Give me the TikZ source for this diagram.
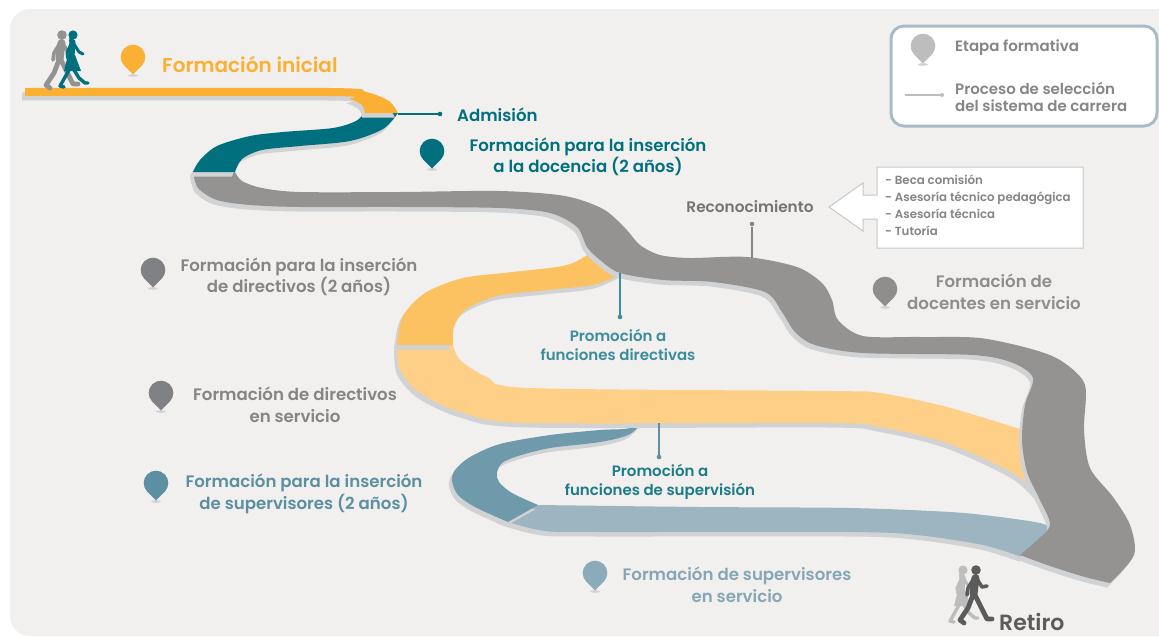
\documentclass[tikz,border=0pt]{standalone}
\usepackage{fontspec}
\setmainfont{Poppins}[UprightFont={* SemiBold}]
\definecolor{bgc}{HTML}{F1F0EE}
\definecolor{shadowc}{HTML}{D1D2D4}
\definecolor{yelA}{HTML}{FBB034}
\definecolor{tealA}{HTML}{00707F}
\definecolor{roadg}{HTML}{949391}
\definecolor{yelB}{HTML}{FCC160}
\definecolor{yelC}{HTML}{FECF87}
\definecolor{bluA}{HTML}{6F9AAB}
\definecolor{bluB}{HTML}{9DB4C1}
\definecolor{txtg}{HTML}{858585}
\definecolor{txtb}{HTML}{5B8FA1}
\definecolor{txtlb}{HTML}{86A6B5}
\definecolor{txtprom}{HTML}{3B8C9C}
\definecolor{txtsup}{HTML}{1C7B89}
\definecolor{txtdark}{HTML}{5B5B5B}
\definecolor{legb}{HTML}{A9BCC6}
\definecolor{pindir}{HTML}{808184}
\definecolor{pinsup}{HTML}{8BABBA}
\definecolor{pindoc}{HTML}{8F8E8C}
\definecolor{pinleg}{HTML}{BDBDBD}

% map pin: centre x, centre y, colour
\newcommand\mappin[3]{%
  \fill[shadowc] (#1,#2+18.5) ellipse [x radius=5, y radius=1.3];
  \fill[#3] (#1,#2) ++(0,17.5) -- ++(-8.74,-8.85)
    arc[start angle=135.3, end angle=404.7, radius=12.3] -- cycle;}

% walking figures, head at the origin of the shifted frame
\newcommand\walkman[3]{%
  \begin{scope}[shift={(#1,#2)}, draw=#3, fill=#3, line cap=round, line join=round]
    \fill (2,5) circle (4.8);
    \draw[line width=8] (1.5,13) -- (-0.5,29);
    \draw[line width=3.6] (-0.5,14) -- (-6,23) -- (-7,30);
    \draw[line width=3.6] (3,14) -- (8,22) -- (13,21);
    \draw[line width=4.8] (-1,30) -- (-6,43) -- (-14,55) -- (-10,58);
    \draw[line width=4.8] (1,30) -- (7,42) -- (13,54) -- (18,54);
  \end{scope}}
\newcommand\walkwoman[3]{%
  \begin{scope}[shift={(#1,#2)}, draw=#3, fill=#3, line cap=round, line join=round]
    \fill (2,5) circle (4.6);
    \fill (-1,3) -- (-2,12) -- (2,10) -- cycle;
    \draw[line width=6] (1.5,12) -- (0.5,27);
    \fill (-3,25) -- (4,25) -- (10,41) -- (-7,41) -- cycle;
    \draw[line width=3] (0,14) -- (-4,23) -- (-3,29);
    \draw[line width=3] (3,14) -- (8,22) -- (12,24);
    \draw[line width=3.4] (-2,40) -- (-7,49) -- (-11,56) -- (-7,57);
    \draw[line width=3.4] (3,40) -- (8,48) -- (14,53) -- (17,53);
  \end{scope}}

% road pieces: outer edge, inner edge
\def\roadstart{plot[smooth] coordinates {(25,88) (330,88) (366,92) (389,101) (398,113)}
  -- plot[smooth] coordinates {(365,113) (362,105) (350,99) (330,96) (25,96)} -- cycle}
\def\roadteal{plot[smooth] coordinates {(364,113) (356,121) (333,128) (283,132) (250,136) (217,146) (200,160) (193,172)}
  -- plot[smooth] coordinates {(235,172) (242,159) (262,150) (300,146) (350,141) (383,129) (398,113)} -- cycle}
\def\roadgray{plot[smooth] coordinates {(235,172) (242,181) (262,188) (300,192) (400,192) (500,191) (565,196) (603,209) (625,228) (640,245) (660,255) (690,258) (747,257) (797,267) (822,283) (832,300) (838,320) (863,336) (920,337) (980,338) (1035,350) (1063,362) (1085,385) (1084,430) (1090,468) (1113,497) (1130,525) (1134,555) (1110,583)}
  -- plot[smooth] coordinates {(1110,583) (1085,577) (1050,566) (1020,555)}
  -- plot[smooth] coordinates {(1020,555) (1035,542) (1050,525) (1040,500) (1027,472) (1022,440) (1025,405) (1033,378) (1013,363) (973,355) (863,353) (815,345) (795,332) (782,312) (765,292) (713,282) (663,280) (620,273) (600,260) (587,247) (577,227) (550,213) (500,208) (400,207) (300,207) (250,205) (217,200) (198,188) (193,172)} -- cycle}
\def\roadyelB{plot[smooth] coordinates {(612,238) (595,250) (567,265) (513,272) (463,278) (425,293) (403,316) (397,345)}
  -- plot[smooth] coordinates {(453,345) (454,327) (465,310) (497,296) (547,290) (597,284) (632,268)} -- cycle}
\def\roadyelC{plot[smooth] coordinates {(397,345) (400,370) (420,393) (463,413) (530,423) (830,423) (880,427) (947,443) (1013,473) (1040,497) (1056,515)}
  -- (1048,440) -- plot[smooth] coordinates {(1023,430) (947,407) (880,393) (830,391) (530,388) (487,377) (460,360) (453,345)} -- cycle}
\def\roadbluA{plot[smooth] coordinates {(662,416) (630,428) (600,430) (550,435) (500,444) (470,457) (455,470) (452,481) (458,495) (475,507) (508,522)}
  -- plot[smooth] coordinates {(538,505) (512,493) (499,482) (497,473) (502,463) (518,456) (550,448) (600,442) (630,434) (648,416)} -- cycle}
\def\roadbluB{plot[smooth] coordinates {(538,505) (700,507) (850,508) (950,512) (1000,517) (1040,523) (1058,530)}
  -- (1050,548) -- plot[smooth] coordinates {(1022,557) (983,545) (917,535) (850,532) (600,532) (545,531) (508,522)} -- cycle}

\begin{document}
\begin{tikzpicture}[x=1pt,y=-1pt,
  lbl/.style={align=center, inner sep=0pt, font=\fontsize{16.6}{21.5}\selectfont},
  small/.style={align=left, inner sep=0pt, font=\fontsize{11.8}{17}\selectfont, text=txtg},
  shade/.style={fill=shadowc, shift={(-3,4.5)}},
  lead/.style={line width=1.3},
  dot/.style={circle, inner sep=0pt, minimum size=4.6pt}]
\useasboundingbox (0,0) rectangle (1159,637);
\clip (0,0) rectangle (1159,637);

% backdrop
\fill[white] (0,0) rectangle (1159,637);
\fill[bgc, rounded corners=20] (10,9) rectangle (1200,636);

% lower loop: supervision
\fill[shade] \roadbluB;
\fill[bluB] \roadbluB;
\fill[shade] \roadbluA;
\fill[bluA] \roadbluA;
% middle loop: direction
\fill[shade] \roadyelC;
\fill[yelC] \roadyelC;
\fill[shade] \roadyelB;
\fill[yelB] \roadyelB;
% main road: teaching
\fill[shade] \roadgray;
\fill[roadg] \roadgray;
\fill[shade] \roadteal;
\fill[tealA] \roadteal;
\fill[shade] \roadstart;
\fill[yelA] \roadstart;

% walkers
\walkman{60}{30}{roadg}
\walkwoman{71}{30}{tealA}
\walkwoman{961}{565}{pinleg}
\walkman{974}{565}{txtdark}

% stage pins
\mappin{133}{57}{yelA}
\mappin{432}{151}{tealA}
\mappin{153}{270}{pindir}
\mappin{161}{393}{pindir}
\mappin{156}{483}{txtb}
\mappin{595}{573}{pinsup}
\mappin{885}{289}{pindoc}

% stage labels
\node[lbl, anchor=west, text=yelA, font=\fontsize{20}{22}\selectfont] (tInicial) at (162,64) {Formación inicial};
\node[lbl, text=tealA] (tDocencia) at (588,157) {Formación para la inserción\\a la docencia (2 años)};
\node[lbl, text=txtg] (tInsDir) at (299,277) {Formación para la inserción\\de directivos (2 años)};
\node[lbl, text=txtg] (tDirServ) at (295,405) {Formación de directivos\\en servicio};
\node[lbl, text=txtb] (tInsSup) at (304,494) {Formación para la inserción\\de supervisores (2 años)};
\node[lbl, text=txtlb] (tSupServ) at (737,585) {Formación de supervisores\\en servicio};
\node[lbl, text=pindoc] (tDocServ) at (994,292) {Formación de\\docentes en servicio};

% selection points
\coordinate (cAdm) at (398,114);
\node[dot, fill=tealA] (dAdm) at (440,114) {};
\draw[lead, tealA] (cAdm) -- (dAdm);
\node[lbl, anchor=west, text=tealA] (tAdm) at (457,115) {Admisión};

\coordinate (cRec) at (752,258);
\node[dot, fill=txtg] (dRec) at (752,224) {};
\draw[lead, txtg] (cRec) -- (dRec);
\node[lbl, text=txtdark!85, font=\fontsize{15.3}{18}\selectfont] (tRec) at (750,207) {Reconocimiento};

\coordinate (cDir) at (620,273);
\node[dot, fill=txtprom] (dDir) at (620,317) {};
\draw[lead, txtprom] (cDir) -- (dDir);
\node[lbl, text=txtprom, font=\fontsize{15}{18.5}\selectfont] (tDir) at (618,345) {Promoción a\\funciones directivas};

\coordinate (cSup) at (659,423);
\node[dot, fill=txtb] (dSup) at (659,457) {};
\draw[lead, txtb] (cSup) -- (dSup);
\node[lbl, text=txtsup, font=\fontsize{15}{18.5}\selectfont] (tSup) at (660,482) {Promoción a\\funciones de supervisión};

% recognition call-out
\draw[fill=white, draw=black!22, line width=1] (877,167) -- (1083,167) -- (1083,248) -- (877,248)
  -- (877,219) -- (863,219) -- (863,231) -- (829,207) -- (863,183) -- (863,195) -- (877,195) -- cycle;
\node[small, anchor=north west] (tList) at (885,175) {- Beca comisión\\- Asesoría técnico pedagógica\\- Asesoría técnica\\- Tutoría};

% retirement
\node[lbl, anchor=west, text=txtdark, font=\fontsize{22}{24}\selectfont] (tRetiro) at (999,622) {Retiro};

% legend
\draw[fill=white, draw=legb, line width=3, rounded corners=13] (891,26) rectangle (1157,126);
\mappin{923}{46}{pinleg}
\node[lbl, anchor=west, text=txtg, font=\fontsize{15}{17}\selectfont] (tLeg1) at (955,48) {Etapa formativa};
\coordinate (cLeg) at (905,95);
\node[dot, fill=pinleg, minimum size=4pt] (dLeg) at (942,95) {};
\draw[line width=1.2, pinleg] (cLeg) -- (dLeg);
\node[lbl, anchor=west, align=left, text=txtg, font=\fontsize{15}{17}\selectfont] (tLeg2) at (955,97) {Proceso de selección\\del sistema de carrera};
\end{tikzpicture}
\end{document}
